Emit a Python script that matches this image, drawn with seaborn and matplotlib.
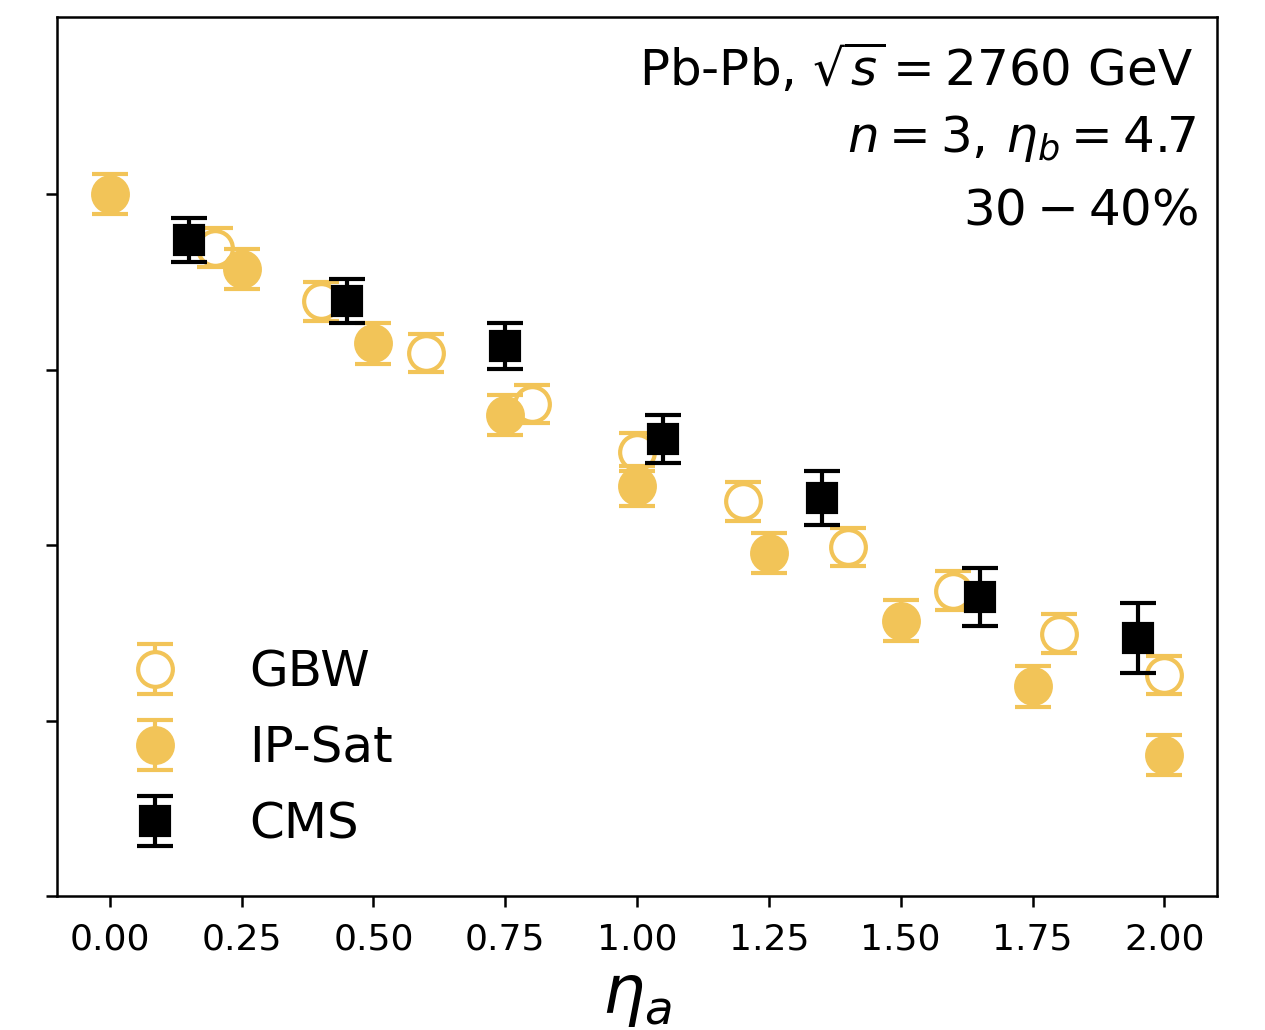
import numpy as np
import pandas as pd
import matplotlib
matplotlib.use("Agg")
import matplotlib.pyplot as plt
import seaborn as sns

# Model predictions and measurement of the factorization ratio r_3(eta_a, eta_b)
gbw_eta = [0.2, 0.4, 0.6, 0.8, 1.0, 1.2, 1.4, 1.6, 1.8, 2.0]
gbw_r = [0.9939, 0.9878, 0.9819, 0.9761, 0.9706, 0.9650, 0.9598, 0.9548, 0.9499, 0.9452]
gbw_err = [0.0022, 0.0022, 0.0022, 0.0022, 0.0022, 0.0022, 0.0022, 0.0022, 0.0022, 0.0022]

ipsat_eta = [0.0, 0.25, 0.5, 0.75, 1.0, 1.25, 1.5, 1.75, 2.0]
ipsat_r = [1.0000, 0.9915, 0.9830, 0.9748, 0.9667, 0.9591, 0.9514, 0.9439, 0.9361]
ipsat_err = [0.0023, 0.0023, 0.0023, 0.0023, 0.0023, 0.0023, 0.0023, 0.0023, 0.0023]

cms_eta = [0.15, 0.45, 0.75, 1.05, 1.35, 1.65, 1.95]
cms_r = [0.9948, 0.9878, 0.9827, 0.9721, 0.9654, 0.9541, 0.9494]
cms_err = [0.0025, 0.0025, 0.0026, 0.0027, 0.0031, 0.0033, 0.0040]

y_ticks = [0.92, 0.94, 0.96, 0.98, 1.00]
x_ticks = [0.0, 0.25, 0.5, 0.75, 1.0, 1.25, 1.5, 1.75, 2.0]

gbw = pd.DataFrame({"eta": gbw_eta, "r": gbw_r, "err": gbw_err})
ipsat = pd.DataFrame({"eta": ipsat_eta, "r": ipsat_r, "err": ipsat_err})
cms = pd.DataFrame({"eta": cms_eta, "r": cms_r, "err": cms_err})

sns.set_theme(style="ticks", rc={
    "axes.edgecolor": "black",
    "axes.labelcolor": "black",
    "text.color": "black",
    "axes.linewidth": 0.9,
    "xtick.color": "black",
    "ytick.color": "black",
    "xtick.major.size": 4,
    "ytick.major.size": 4,
    "xtick.major.width": 0.9,
    "ytick.major.width": 0.9,
    "xtick.major.pad": 5.5,
})
plt.rcParams["font.family"] = ["DejaVu Sans"]
plt.rcParams["mathtext.fontset"] = "dejavusans"

yellow = "#f2c458"

fig = plt.figure(figsize=(6.325, 5.15), dpi=200)
ax = fig.add_axes([0.0451, 0.1301, 0.9170, 0.8534])

ax.errorbar(gbw["eta"], gbw["r"], yerr=gbw["err"], fmt="o", color=yellow,
            mfc="white", mec=yellow, ms=12.5, mew=1.5, elinewidth=1.5,
            capsize=6.5, capthick=1.5, label="GBW", zorder=2)
ax.errorbar(ipsat["eta"], ipsat["r"], yerr=ipsat["err"], fmt="o", color=yellow,
            mfc=yellow, mec=yellow, ms=12.5, mew=1.5, elinewidth=1.5,
            capsize=6.5, capthick=1.5, label="IP-Sat", zorder=3)
ax.errorbar(cms["eta"], cms["r"], yerr=cms["err"], fmt="s", color="black",
            mfc="black", mec="black", ms=10, mew=1.5, elinewidth=1.5,
            capsize=6.5, capthick=1.5, label="CMS", zorder=4)

ax.set_xlim(-0.1, 2.1)
ax.set_ylim(0.92, 1.0202)
ax.set_xticks(x_ticks)
ax.set_xticklabels([f"{v:.2f}" for v in x_ticks], fontsize=13)
ax.set_yticks(y_ticks)
ax.set_yticklabels([])
ax.set_xlabel(r"$\eta_a$", fontsize=24, labelpad=2.5)

ax.text(0.9790, 0.9226, r"Pb-Pb, $\sqrt{s}=2760$ GeV", transform=ax.transAxes,
        ha="right", va="baseline", fontsize=18)
ax.text(0.9815, 0.8464, r"$n=3,\,\eta_b=4.7$", transform=ax.transAxes,
        ha="right", va="baseline", fontsize=18)
ax.text(0.9836, 0.7634, r"$30-40\%$", transform=ax.transAxes,
        ha="right", va="baseline", fontsize=18)

ax.legend(loc="lower left", frameon=False, fontsize=18, labelspacing=0.56,
          handletextpad=0.9, borderaxespad=0.55)

fig.savefig("out.png", dpi=200)
